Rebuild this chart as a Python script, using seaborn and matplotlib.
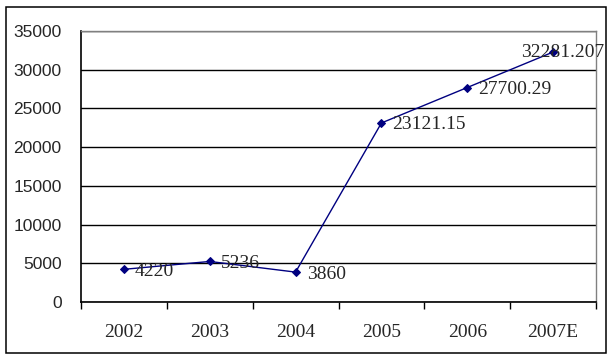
import matplotlib
matplotlib.use("Agg")
import matplotlib.pyplot as plt
import seaborn as sns
import pandas as pd
from matplotlib.patches import Rectangle
from matplotlib.ticker import FixedLocator, NullFormatter

# Data
years = ["2002", "2003", "2004", "2005", "2006", "2007E"]
values = [4220, 5236, 3860, 23121.15, 27700.29, 32281.207]
labels = ["4220", "5236", "3860", "23121.15", "27700.29", "32281.207"]

df = pd.DataFrame({"year": years, "value": values})

sns.set_style("white")
plt.rcParams["font.family"] = ["Liberation Serif", "DejaVu Serif"]

fig = plt.figure(figsize=(6.15, 3.6), dpi=100)
ax = fig.add_axes([81 / 615, 1 - 302 / 360, (596 - 81) / 615, (302 - 31) / 360])

sns.lineplot(data=df, x="year", y="value", ax=ax, color="#000080", linewidth=1,
             marker="D", markersize=4.5, markeredgecolor="#000080", sort=False)

# data labels
for i, (v, t) in enumerate(zip(values, labels)):
    if i == len(values) - 1:
        ax.annotate(t, (i, v), xytext=(-32, 0), textcoords="offset pixels",
                    ha="left", va="center", fontsize=14)
    else:
        ax.annotate(t, (i, v), xytext=(11, -2), textcoords="offset pixels",
                    ha="left", va="center", fontsize=14)

ax.set_xlim(-0.5, 5.5)
ax.set_ylim(0, 35000)
ax.set_yticks(range(0, 35001, 5000))
ax.set_yticklabels([str(v) for v in range(0, 35001, 5000)], family="Liberation Sans", fontsize=12.5)
ax.tick_params(axis="y", length=0, pad=14)

ax.set_xticks(range(len(years)))
ax.set_xticklabels(years, fontsize=14)
ax.tick_params(axis="x", which="major", length=0, pad=16)
ax.xaxis.set_minor_locator(FixedLocator([i - 0.5 for i in range(len(years) + 1)]))
ax.xaxis.set_minor_formatter(NullFormatter())
ax.tick_params(axis="x", which="minor", length=5, width=1, direction="out", color="black", bottom=True)

ax.grid(axis="y", color="black", linewidth=1)
ax.set_axisbelow(True)
ax.set_xlabel("")
ax.set_ylabel("")
for side in ["left", "bottom"]:
    ax.spines[side].set_color("black")
    ax.spines[side].set_linewidth(1.2)
for side in ["top", "right"]:
    ax.spines[side].set_visible(True)
    ax.spines[side].set_color("gray")
    ax.spines[side].set_linewidth(1)

# outer border
fig.patches.append(Rectangle((6 / 615, 1 - 353 / 360), 600 / 615, 346 / 360,
                             transform=fig.transFigure, fill=False,
                             edgecolor="black", linewidth=1.1))

fig.savefig("out.png", dpi=100)
